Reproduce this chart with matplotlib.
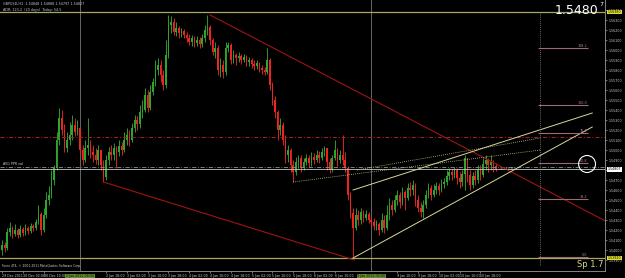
import matplotlib
matplotlib.use("Agg")
import matplotlib.pyplot as plt
import matplotlib.transforms as mtransforms
from matplotlib.patches import Ellipse
import numpy as np

# ---------------- data (pips above 1.5000) ----------------
BASE = 1.5
PIP = 0.0001
first_open_pips = 400
closes_pips = [405, 402, 418, 422, 416, 420, 415, 421, 417, 422,
               419, 424, 422, 428, 436, 420, 435, 450, 455, 470,
               482, 510, 532, 520, 502, 510, 515, 525, 518, 522,
               500, 490, 502, 505, 498, 495, 490, 500, 485, 473,
               490, 498, 495, 502, 498, 504, 500, 510, 515, 510,
               522, 530, 526, 538, 540, 555, 542, 558, 568, 580,
               585, 575, 565, 595, 625, 628, 618, 622, 617, 619,
               615, 612, 608, 612, 607, 610, 606, 612, 620, 623,
               610, 598, 602, 580, 585, 578, 602, 605, 590, 595,
               592, 594, 590, 593, 588, 590, 586, 584, 587, 582,
               580, 578, 590, 565, 550, 538, 520, 525, 510, 495,
               500, 485, 478, 488, 492, 482, 488, 492, 487, 493,
               490, 495, 492, 498, 502, 488, 480, 492, 500, 490,
               495, 490, 482, 455, 437, 422, 435, 430, 438, 432,
               436, 430, 428, 424, 426, 420, 430, 422, 435, 445,
               440, 450, 455, 448, 458, 452, 462, 460, 465, 450,
               442, 438, 445, 455, 462, 455, 460, 464, 460, 466,
               468, 474, 478, 475, 480, 472, 468, 476, 492, 475,
               465, 474, 470, 480, 475, 486, 490, 485, 488, 484,
               480.7]
highs_pips = [410, 408, 422, 428, 424, 426, 422, 425, 423, 426,
              424, 427, 426, 431, 445, 438, 442, 458, 464, 480,
              485, 518, 542, 540, 526, 518, 528, 535, 532, 530,
              522, 505, 510, 532, 510, 505, 502, 505, 500, 490,
              495, 503, 505, 507, 504, 510, 508, 518, 522, 520,
              527, 535, 534, 545, 550, 562, 560, 565, 572, 590,
              592, 590, 580, 610, 635, 634, 632, 628, 624, 622,
              621, 618, 616, 615, 614, 614, 613, 616, 625, 635,
              625, 612, 608, 605, 592, 590, 608, 608, 607, 600,
              597, 598, 596, 596, 595, 593, 592, 590, 590, 588,
              585, 583, 602, 592, 568, 554, 540, 532, 528, 515,
              505, 502, 490, 493, 495, 495, 492, 496, 495, 498,
              497, 500, 499, 502, 504, 502, 492, 495, 510, 502,
              500, 515, 498, 484, 458, 442, 442, 440, 442, 440,
              440, 438, 434, 432, 430, 428, 437, 435, 445, 452,
              450, 455, 460, 458, 463, 460, 467, 468, 470, 467,
              455, 448, 450, 460, 467, 465, 466, 468, 467, 471,
              472, 480, 482, 481, 483, 482, 478, 480, 495, 492,
              480, 478, 480, 485, 485, 492, 495, 492, 495, 490,
              487]
lows_pips = [395, 398, 400, 414, 412, 414, 412, 413, 414, 415,
             416, 417, 419, 420, 426, 415, 418, 432, 445, 452,
             465, 480, 505, 515, 498, 498, 505, 510, 514, 515,
             495, 485, 488, 495, 492, 488, 486, 485, 480, 468,
             470, 485, 490, 490, 482, 494, 495, 498, 505, 504,
             508, 518, 520, 522, 532, 538, 538, 540, 555, 564,
             575, 568, 560, 562, 592, 617, 615, 614, 612, 613,
             612, 608, 605, 604, 603, 604, 602, 603, 608, 615,
             605, 595, 592, 575, 573, 572, 575, 598, 586, 587,
             585, 588, 586, 588, 584, 584, 582, 580, 581, 578,
             576, 575, 576, 560, 545, 532, 510, 515, 505, 487,
             488, 478, 468, 475, 482, 478, 480, 485, 483, 484,
             486, 488, 487, 490, 494, 480, 477, 478, 490, 484,
             487, 485, 478, 450, 432, 393, 420, 425, 426, 428,
             430, 427, 424, 420, 420, 415, 418, 417, 420, 430,
             435, 438, 445, 442, 445, 440, 450, 454, 455, 444,
             438, 433, 432, 442, 452, 450, 453, 456, 455, 458,
             462, 465, 470, 470, 472, 466, 462, 464, 460, 468,
             460, 462, 465, 467, 470, 473, 480, 478, 480, 478,
             479]

xtick_bars = [0, 8, 16, 40, 48, 56, 64, 72, 80, 88,
              96, 104, 112, 120, 128, 152, 160, 168, 176, 184]
xtick_labels = ["29 Dec 2011", "30 Dec 02:00", "30 Dec 10:00",
                "2 Jan 18:00", "3 Jan 02:00", "3 Jan 10:00",
                "3 Jan 18:00", "4 Jan 02:00", "4 Jan 10:00", "4 Jan 18:00",
                "5 Jan 02:00", "5 Jan 10:00", "5 Jan 18:00", "6 Jan 02:00",
                "6 Jan 10:00", "9 Jan 10:00",
                "9 Jan 18:00", "10 Jan 02:00", "10 Jan 10:00", "10 Jan 18:00"]
separator_bars = [30, 142]
separator_labels = ["2 Jan 2012 08:00", "9 Jan 2012 00:00"]

ray_red = [(80, 1.5635), (190, 1.5486)]
channel_red = [(39, 1.5468), (135.5, 1.5390)]
khaki_lines = [[(135, 1.5392), (227, 1.5523)],
               [(135, 1.5460), (227, 1.5537)]]
khaki_dotted = [[(112, 1.5468), (207, 1.5500)],
                [(136.5, 1.5480), (207, 1.5512)]]
fib_levels = [1.5602, 1.5545, 1.5517, 1.5487, 1.5451, 1.5393]
fib_labels = ["138.2", "100.0", "76.4", "61.8", "38.2", "0.0"]
fib_start, fib_end = 206, 225.5
olive_levels = [1.5638, 1.5392]
red_level = 1.5513
avg_level = 1.5483
bid = 1.54807
vline_bar = 207
ytick_values = [1.5390 + 0.0010 * k for k in range(26)]

# ---------------- figure ----------------
W, H = 625, 278
fig = plt.figure(figsize=(W / 100, H / 100), dpi=100)
fig.patch.set_facecolor("black")
ax = fig.add_axes([0, 7 / H, 605 / W, 271 / H])
ax.set_facecolor("black")
ax.set_xlim(-0.77, 231.9)
ax.set_ylim(1.5379, 1.5650)

o = BASE + np.array([first_open_pips] + closes_pips[:-1], dtype=float) * PIP
c = BASE + np.array(closes_pips, dtype=float) * PIP
h = BASE + np.array(highs_pips, dtype=float) * PIP
l = BASE + np.array(lows_pips, dtype=float) * PIP
idx = np.arange(len(c))
up = c >= o
GREEN, RED = "#2ea62e", "#ee2420"
cols = np.where(up, GREEN, RED)
ax.vlines(idx, l, h, colors=cols, lw=0.65, zorder=2)
body = np.abs(c - o)
body = np.where(body < 0.00003, 0.00003, body)
ax.bar(idx, body, bottom=np.minimum(o, c), width=0.66, color=cols,
       linewidth=0, zorder=2.5)

# separators
for b in separator_bars:
    ax.axvline(b, color="#777777", lw=0.6, zorder=1)
# horizontal levels
for lv in olive_levels:
    ax.axhline(lv, color="#a8a860", lw=0.9, zorder=3)
ax.axhline(red_level, color="#b02222", lw=0.7, ls=(0, (4, 2, 1, 2)), zorder=3)
ax.axhline(avg_level, color="#8a948a", lw=0.6, ls=(0, (5, 2, 1, 2)), zorder=3)
ax.axhline(bid, color="#c8c8c8", lw=0.6, zorder=3)
ax.text(0.5, avg_level + 0.00006, "AVG PPR val", color="#d0d0d0",
        fontsize=2.3, va="bottom", ha="left", zorder=4)

# trendlines
(x1, y1), (x2, y2) = ray_red
xr = ax.get_xlim()[1]
ax.plot([x1, xr], [y1, y1 + (y2 - y1) / (x2 - x1) * (xr - x1)],
        color="#a01414", lw=0.8, zorder=3)
ax.plot([p[0] for p in channel_red], [p[1] for p in channel_red],
        color="#a01414", lw=0.8, zorder=3)
for ln in khaki_lines:
    ax.plot([p[0] for p in ln], [p[1] for p in ln], color="#d8d898",
            lw=0.7, zorder=3)
for ln in khaki_dotted:
    ax.plot([p[0] for p in ln], [p[1] for p in ln], color="#c8c890",
            lw=0.6, ls=(0, (1, 1.5)), zorder=3)

# fibonacci-like levels
ax.plot([vline_bar, vline_bar], [1.5638, 1.5385], color="#909090", lw=0.6,
        ls=(0, (1, 1.5)), zorder=3)
ax.hlines(fib_levels, fib_start, fib_end, color="#9b6b7b", lw=0.8, zorder=3)
for lv, lb in zip(fib_levels, fib_labels):
    ax.text(fib_end - 0.3, lv + 0.00004, lb, color="#b08090", fontsize=2.4,
            ha="right", va="bottom", zorder=4)
ax.add_patch(Ellipse((225, 1.5486), 6.5, 0.0017, fill=False,
                     edgecolor="white", lw=0.8, zorder=5))
ax.text(191.5, bid, "<- 22.51", color="#c8c8c8", fontsize=2.5,
        ha="left", va="center", zorder=4)

# axes styling
for s in ["top", "left"]:
    ax.spines[s].set_visible(False)
for s in ["right", "bottom"]:
    ax.spines[s].set_color("#9a9a9a")
    ax.spines[s].set_linewidth(0.6)
ax.yaxis.tick_right()
ax.set_yticks(ytick_values)
ax.set_yticklabels([f"{v:.5f}" for v in ytick_values])
ax.tick_params(axis="y", colors="#c8c8c8", labelsize=2.3, length=1.5,
               width=0.4, pad=1)
ax.set_xticks(xtick_bars)
ax.set_xticklabels(xtick_labels, ha="left")
ax.tick_params(axis="x", colors="#c8c8c8", labelsize=2.3, length=1.5,
               width=0.4, pad=0.8)

tr_y = mtransforms.blended_transform_factory(ax.transAxes, ax.transData)
tr_x = mtransforms.blended_transform_factory(ax.transData, ax.transAxes)
for lv in olive_levels:
    ax.text(1.004, lv, f"{lv:.5f}", transform=tr_y, fontsize=2.3,
            color="black", va="center", ha="left", clip_on=False,
            bbox=dict(boxstyle="square,pad=0.15", fc="#e0e030", ec="none"))
ax.text(1.004, bid, f"{bid:.5f}", transform=tr_y, fontsize=2.3,
        color="black", va="center", ha="left", clip_on=False,
        bbox=dict(boxstyle="square,pad=0.15", fc="white", ec="none"))
for b, lb in zip(separator_bars, separator_labels):
    ax.text(b, -0.012, lb, transform=tr_x, fontsize=2.3, color="#101010",
            va="top", ha="center", clip_on=False, zorder=6,
            bbox=dict(boxstyle="square,pad=0.2", fc="#5c8c2c", ec="none"))

# texts
fig.text(3 / W, 1 - 4 / H, "GBPUSD,H1  1.54848 1.54888 1.54797 1.54827",
         color="#c8c8c8", fontsize=2.4, va="center", ha="left")
fig.text(3 / W, 1 - 10 / H, "ADR: 123.2  (20 days)  Today: 54.5",
         color="#c8c8c8", fontsize=2.4, va="center", ha="left")
fig.text(598 / W, 1 - 11 / H, "1.5480", color="white", fontsize=9,
         va="center", ha="right")
fig.text(599 / W, 1 - 5 / H, "7", color="white", fontsize=4.5,
         va="center", ha="left")
ax.text(0.997, 0.024, "Sp 1.7", transform=ax.transAxes, color="#d8d890",
        fontsize=6, ha="right", va="center")
ax.text(0.004, 0.012, "Forex 4T4, \u00a9 2001-2011 MetaQuotes Software Corp.",
        transform=ax.transAxes, color="#d0d0d0", fontsize=2.2,
        ha="left", va="bottom")

fig.savefig("out.png", dpi=100, facecolor="black")
